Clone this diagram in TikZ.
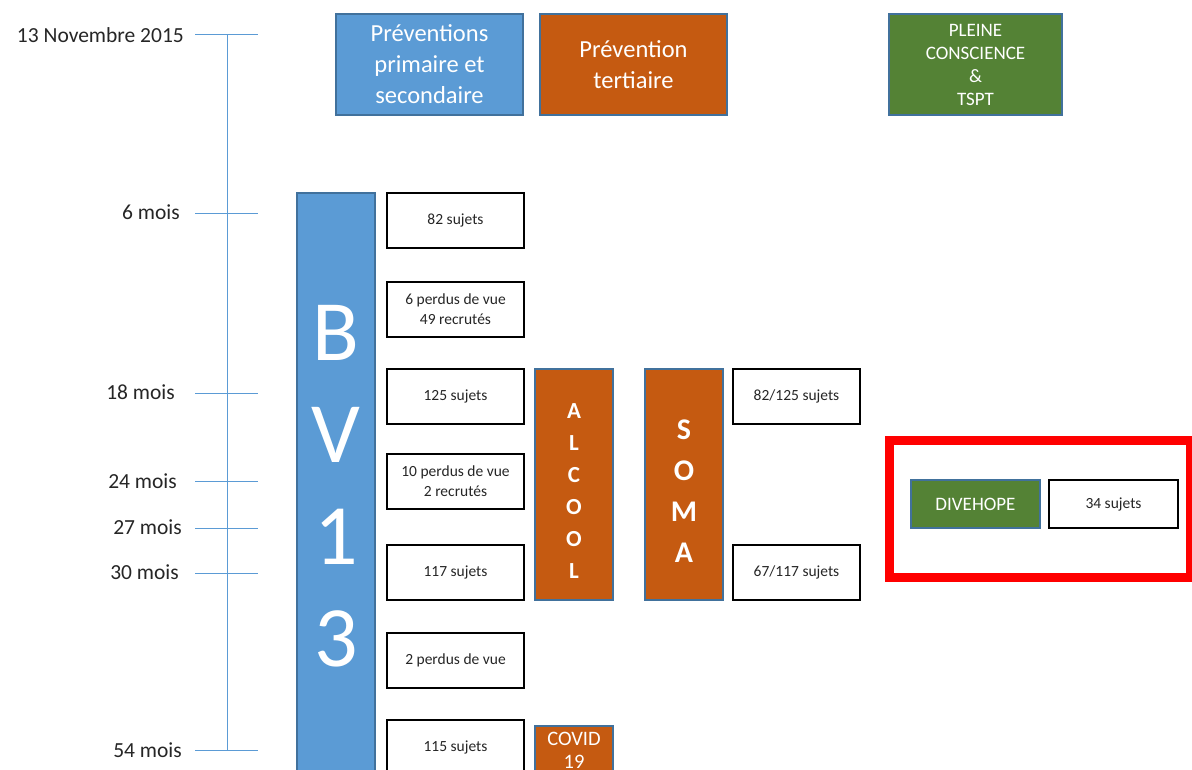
\documentclass[tikz,border=0pt]{standalone}
\usepackage{fontspec}
\setmainfont{Carlito}
\definecolor{cblue}{HTML}{5B9BD5}
\definecolor{corange}{HTML}{C55A11}
\definecolor{cgreen}{HTML}{548235}
\definecolor{cedge}{HTML}{41719C}
\definecolor{ctext}{HTML}{262626}
\definecolor{cred}{HTML}{FF0000}
\begin{document}
\begin{tikzpicture}[x=1pt,y=-1pt,
  colbox/.style={draw=cedge, line width=1.5pt, inner sep=0pt, align=center, text=white},
  bluebox/.style={colbox, fill=cblue},
  orangebox/.style={colbox, fill=corange},
  greenbox/.style={colbox, fill=cgreen},
  whitebox/.style={draw=black, line width=1.8pt, fill=white, inner sep=0pt, align=center, text=ctext, font=\fontsize{15.5}{20}\selectfont, minimum width=137pt, minimum height=55pt},
  sidebox/.style={whitebox, minimum width=127pt},
  datelabel/.style={anchor=east, inner sep=0pt, text=ctext, font=\fontsize{21.5}{24}\selectfont},
  tline/.style={draw=cblue, line width=1pt}
]
\useasboundingbox (0,0) rectangle (1192,770);

% timeline
\coordinate (vtop) at (227,35);
\coordinate (vbot) at (227,750);
\draw[tline] (vtop) -- (vbot);
\foreach \n/\y in {t0/35,t6/214,t18/393,t24/481,t27/528,t30/573,t54/750}{
  \coordinate (\n a) at (195,\y);
  \coordinate (\n b) at (258,\y);
  \draw[tline] (\n a) -- (\n b);
}
\node[datelabel] (l0) at (184,35) {13 Novembre 2015};
\node[datelabel] (l6) at (180,212) {6 mois};
\node[datelabel] (l18) at (175,392) {18 mois};
\node[datelabel] (l24) at (177,481) {24 mois};
\node[datelabel] (l27) at (182,527) {27 mois};
\node[datelabel] (l30) at (179,572) {30 mois};
\node[datelabel] (l54) at (182,750) {54 mois};

% top headers
\node[bluebox, minimum width=187pt, minimum height=101pt, font=\fontsize{24.5}{31}\selectfont] (prev1) at (429.5,64.5) {Préventions\\primaire et\\secondaire};
\node[orangebox, minimum width=187pt, minimum height=101pt, font=\fontsize{24.5}{31}\selectfont] (prev3) at (633.5,64.5) {Prévention\\tertiaire};
\node[greenbox, minimum width=173pt, minimum height=101pt, font=\fontsize{19}{23}\selectfont] (pleine) at (975.5,64.5) {PLEINE\\CONSCIENCE\\\&\\TSPT};

% BV13 column
\node[bluebox, minimum width=78pt, minimum height=587pt, font=\fontsize{86}{102}\selectfont] (bv) at (336,486.5) {B\\V\\1\\3};

% white boxes
\node[whitebox] (b82) at (455.5,220.5) {82 sujets};
\node[whitebox] (b6) at (455.5,309.5) {6 perdus de vue\\49 recrutés};
\node[whitebox] (b125) at (455.5,396.5) {125 sujets};
\node[whitebox] (b10) at (455.5,481.5) {10 perdus de vue\\2 recrutés};
\node[whitebox] (b117) at (455.5,572.5) {117 sujets};
\node[whitebox] (b2) at (455.5,660.5) {2 perdus de vue};
\node[whitebox] (b115) at (455.5,747.5) {115 sujets};

% ALCOOL / SOMA
\node[orangebox, minimum width=78pt, minimum height=231pt, font=\bfseries\fontsize{23}{32}\selectfont] (alc) at (574,484.5) {\rule{0pt}{27pt}A\\L\\C\\O\\O\\L};
\node[orangebox, minimum width=78pt, minimum height=231pt, font=\bfseries\fontsize{30}{41}\selectfont] (soma) at (684,484.5) {\rule{0pt}{32pt}S\\O\\M\\A};
\node[sidebox] (s82) at (796.5,396.5) {82/125 sujets};
\node[sidebox] (s67) at (796.5,572.5) {67/117 sujets};

% COVID
\node[orangebox, minimum width=78pt, minimum height=48pt, font=\fontsize{20.5}{23}\selectfont] (covid) at (574,750) {COVID\\19};

% DIVEHOPE
\node[draw=cred, line width=9pt, minimum width=300.5pt, minimum height=137.5pt, inner sep=0pt] (red) at (1039.75,508.75) {};
\node[greenbox, minimum width=129pt, minimum height=48pt, font=\fontsize{19}{20}\selectfont] (dive) at (975.5,504) {DIVEHOPE};
\node[sidebox, minimum width=129pt, minimum height=48pt] (s34) at (1113.5,504) {34 sujets};
\end{tikzpicture}
\end{document}
